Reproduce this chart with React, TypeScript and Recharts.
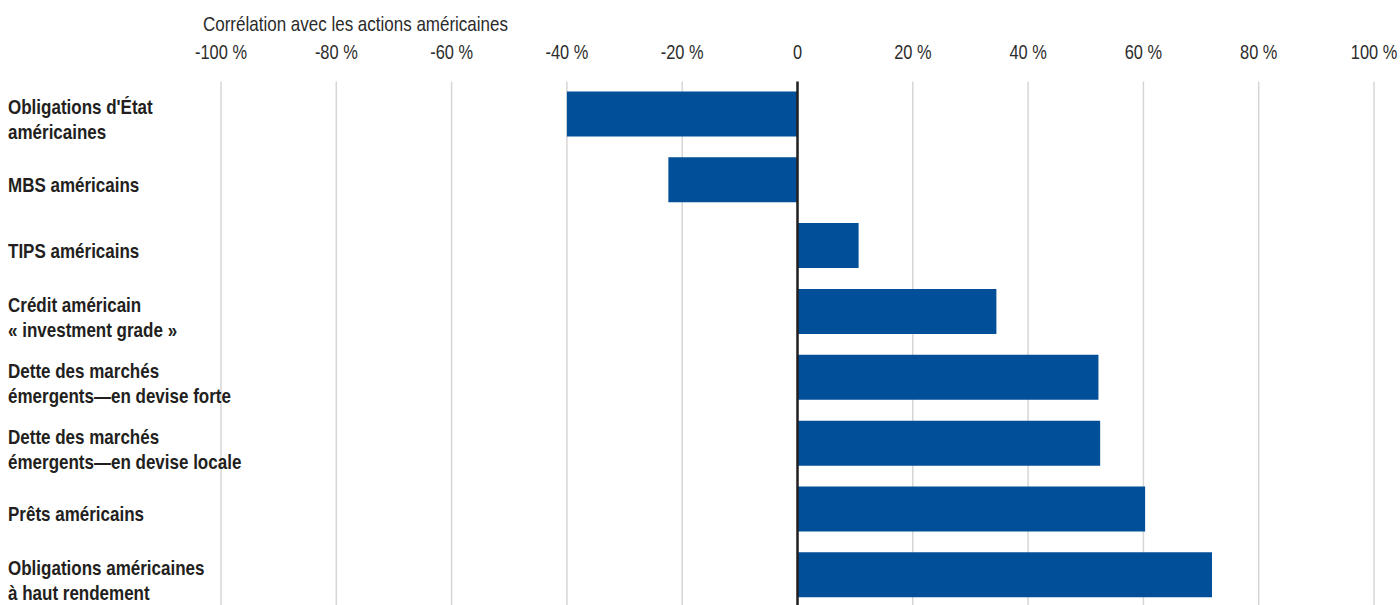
import React from 'react';
import { BarChart, Bar, XAxis, YAxis, CartesianGrid, ReferenceLine } from 'recharts';

const categories = [
  "Obligations d'État\naméricaines",
  "MBS américains",
  "TIPS américains",
  "Crédit américain\n« investment grade »",
  "Dette des marchés\némergents—en devise forte",
  "Dette des marchés\némergents—en devise locale",
  "Prêts américains",
  "Obligations américaines\nà haut rendement",
];
const correlations = [-40, -22.4, 10.6, 34.5, 52.2, 52.5, 60.3, 71.9];
const xTicks = [-100, -80, -60, -40, -20, 0, 20, 40, 60, 80, 100];
const axisTitle = 'Corrélation avec les actions américaines';

const data = categories.map((name, i) => ({ name, value: correlations[i] }));

const FONT = "'Liberation Sans', Arial, sans-serif";
const TEXT = '#231f20';

const formatTick = (v: number) => (v === 0 ? '0' : `${v} %`);

const XTick = (props: any) => {
  const { x, payload } = props;
  return (
    <g transform={`translate(${x},59) scale(0.82,1)`}>
      <text x={0} y={0} textAnchor="middle" fontFamily={FONT} fontSize={20} fill="#2b2b2b">
        {formatTick(payload.value)}
      </text>
    </g>
  );
};

const YTick = (props: any) => {
  const { y, payload } = props;
  const lines = String(payload.value).split('\n');
  const first = lines.length === 1 ? y + 12 : y;
  return (
    <g transform={`translate(8,${first}) scale(0.81,1)`}>
      <text x={0} y={0} textAnchor="start" fontFamily={FONT} fontSize={21} fontWeight={700} fill={TEXT}>
        {lines.map((l, i) => (
          <tspan key={i} x={0} y={i * 25}>
            {l}
          </tspan>
        ))}
      </text>
    </g>
  );
};

export default function App() {
  return (
    <div style={{ position: 'absolute', left: 0, top: 0, width: 1400, height: 605, overflow: 'hidden', background: '#fff' }}>
      <BarChart
        width={1400}
        height={612}
        data={data}
        layout="vertical"
        margin={{ top: 0, right: 26, bottom: 3.8, left: 0 }}
      >
        <CartesianGrid horizontal={false} stroke="#d6d6d6" strokeWidth={1.5} />
        <XAxis
          type="number"
          orientation="top"
          domain={[-100, 100]}
          ticks={xTicks}
          interval={0}
          axisLine={false}
          tickLine={false}
          height={81.4}
          tick={(p: any) => <XTick {...p} />}
        />
        <YAxis
          type="category"
          dataKey="name"
          width={221}
          interval={0}
          axisLine={false}
          tickLine={false}
          tick={(p: any) => <YTick {...p} />}
        />
        <Bar dataKey="value" fill="#004f98" barSize={45} isAnimationActive={false} />
        <ReferenceLine x={0} stroke={TEXT} strokeWidth={2.5} />
      </BarChart>
      <svg width={1400} height={60} style={{ position: 'absolute', left: 0, top: 0, pointerEvents: 'none' }}>
        <g transform="translate(203,31) scale(0.85,1)">
          <text x={0} y={0} fontFamily={FONT} fontSize={20} fill="#2b2b2b">
            {axisTitle}
          </text>
        </g>
      </svg>
    </div>
  );
}
